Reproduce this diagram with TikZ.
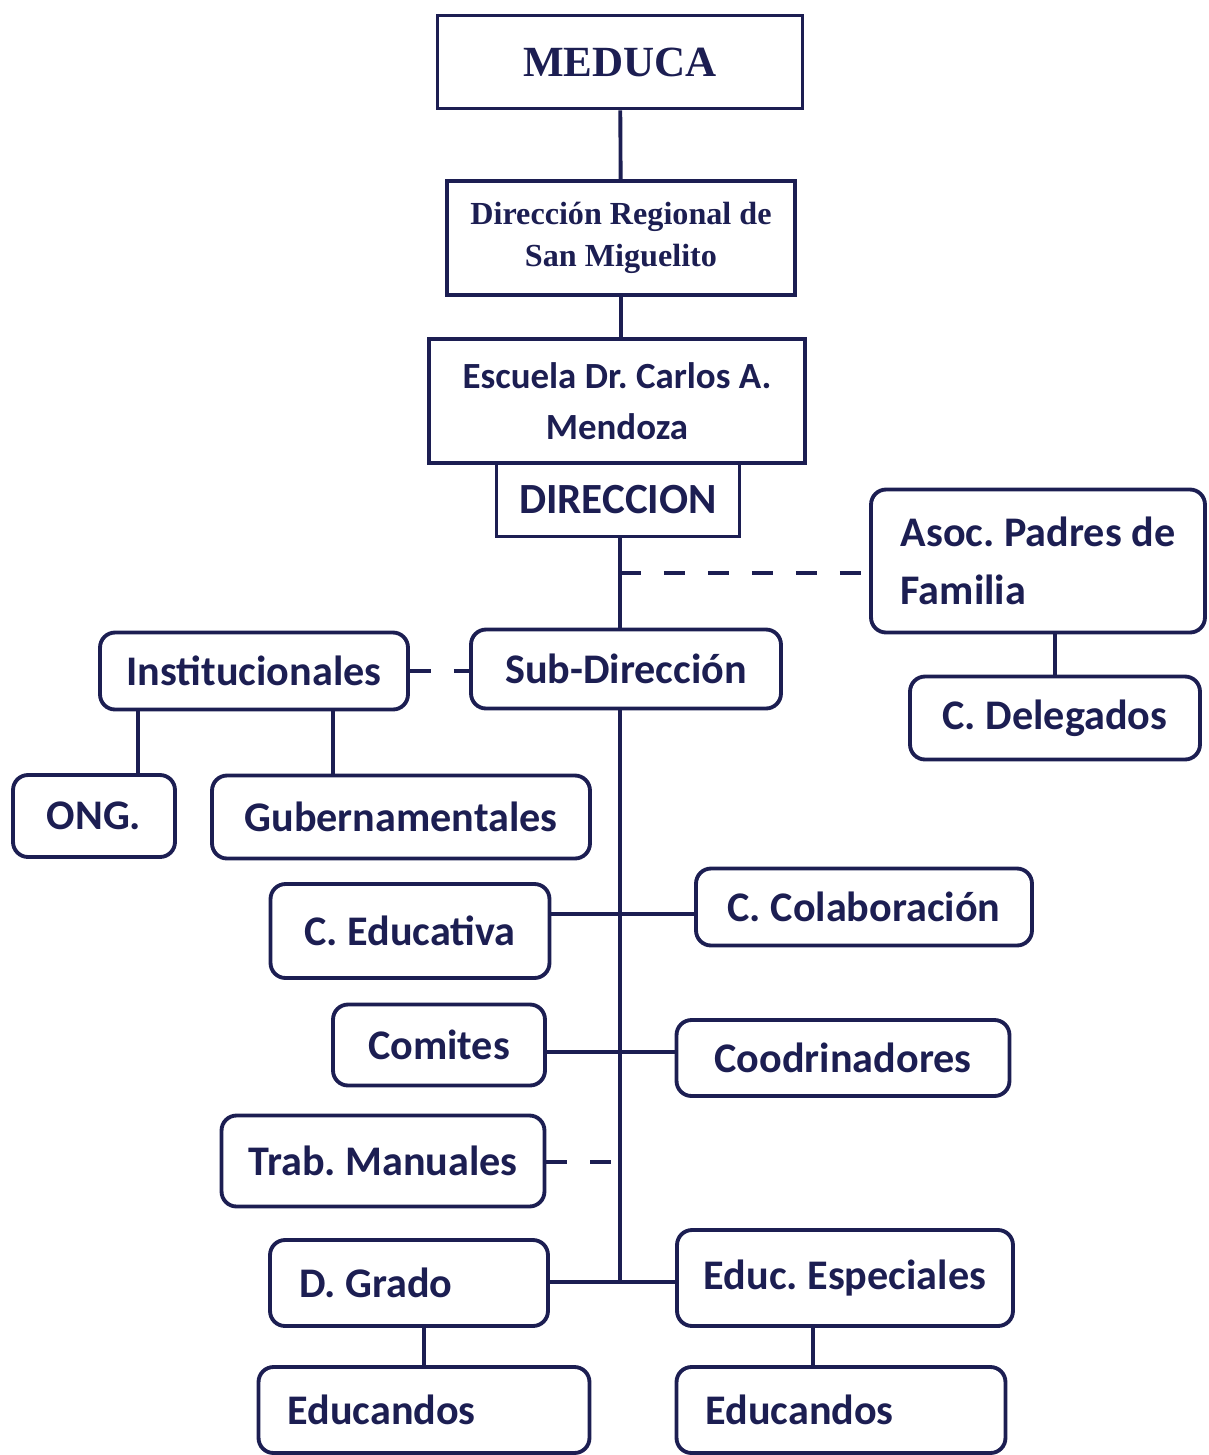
\documentclass[tikz,border=0pt]{standalone}
\usepackage{fontspec}
\setmainfont{Carlito}
\newfontfamily\serifbold{Liberation Serif}
\usepackage{tikz}
\usetikzlibrary{positioning}

\definecolor{navy}{RGB}{28,30,82}

\begin{document}
\frenchspacing
\begin{tikzpicture}[x=0.02cm,y=-0.02cm,
        topbox/.style={
            % The shape
            rectangle,
            % The border
            line width=2.2pt,
            draw = navy,
            % The color
            text = navy,
            % Font
            font = \serifbold\bfseries
        },
        sqbox/.style={
            % The shape
            rectangle,
            % The border
            line width=2.2pt,
            draw = navy,
            % The color
            text = navy,
            % Font
            font = \bfseries\fontsize{21}{29}\selectfont
        },
        box/.style={
            % The shape
            rectangle,
            rounded corners=0.3cm,
            % The border
            line width=2.2pt,
            draw = navy,
            % The color
            text = navy,
            % Font
            font = \bfseries\fontsize{24}{33}\selectfont
        },
        leftbox/.style={
            box,
            align=flush left,
            inner xsep=0.58cm
        },
        link/.style={line width=2.2pt, draw=navy},
        dashlink/.style={link, dash pattern=on 0.42cm off 0.46cm}
    ]
        \useasboundingbox (0,0) rectangle (1208,1455);

        % upper chain
        \node (meduca) [topbox,minimum width=7.3cm,minimum height=1.86cm,font=\serifbold\bfseries\fontsize{24.5}{28}\selectfont] at (620,62) {MEDUCA};
        \node (regional) [topbox,align=center,minimum width=6.96cm,minimum height=2.28cm,font=\serifbold\bfseries\fontsize{18.3}{24}\selectfont] at (621,238) {Dirección Regional de \\ San Miguelito};
        \node (escuela) [sqbox,align=center,minimum width=7.52cm,minimum height=2.48cm] at (617,401) {Escuela Dr. Carlos A. \\ Mendoza};
        \node (direccion) [sqbox,minimum width=4.86cm,minimum height=1.46cm,font=\bfseries\fontsize{24.5}{28}\selectfont] at (618,500) {DIRECCION};

        % spine points
        \coordinate (jPadres) at (620,573);
        \coordinate (jEdu) at (620,914);
        \coordinate (jCom) at (620,1052);
        \coordinate (jTrab) at (620,1162);
        \coordinate (jGrado) at (620,1282);
        \coordinate (xOng) at (138,0);
        \coordinate (xGub) at (333,0);
        \coordinate (xEsp) at (813,0);

        \path (meduca) edge[link] (regional);
        \path (regional.south) edge[link] (regional.south |- escuela.north);

        % right side
        \node (padres) [box,align=flush left,minimum width=6.68cm,minimum height=2.86cm] at (1038,561) {Asoc. Padres de \\ Familia};
        \node (delegados) [box,minimum width=5.8cm,minimum height=1.66cm] at (1055,718) {C. Delegados};
        \path (delegados.north |- padres.south) edge[link] (delegados.north);

        % sub-direccion
        \node (subdir) [box,minimum width=6.2cm,minimum height=1.58cm] at (626,669) {Sub-Dirección};
        \path (direccion.south -| jPadres) edge[link] (subdir.north -| jPadres);
        \path (jPadres) edge[dashlink] (padres.west |- jPadres);
        \path (subdir.south -| jGrado) edge[link] (jGrado);

        % left side
        \node (instit) [box,minimum width=6.16cm,minimum height=1.54cm] at (254,671) {Institucionales};
        \node (ong) [box,minimum width=3.24cm,minimum height=1.64cm] at (94,816) {ONG.};
        \node (gubern) [box,minimum width=7.56cm,minimum height=1.66cm] at (401,817) {Gubernamentales};
        \path (instit.east) edge[dashlink] (instit.east -| subdir.west);
        \path (instit.south -| xOng) edge[link] (ong.north -| xOng);
        \path (instit.south -| xGub) edge[link] (gubern.north -| xGub);

        % branches of the spine
        \node (educativa) [box,minimum width=5.58cm,minimum height=1.88cm] at (410,931) {C. Educativa};
        \node (colabora) [box,minimum width=6.72cm,minimum height=1.54cm] at (864,907) {C. Colaboración};
        \path (educativa.east |- jEdu) edge[link] (colabora.west |- jEdu);

        \node (comites) [box,minimum width=4.24cm,minimum height=1.62cm] at (439,1045) {Comites};
        \node (coordin) [box,minimum width=6.66cm,minimum height=1.52cm] at (843,1058) {Coodrinadores};
        \path (comites.east |- jCom) edge[link] (coordin.west |- jCom);

        \node (manuales) [box,minimum width=6.46cm,minimum height=1.82cm] at (383,1161) {Trab. Manuales};
        \path (manuales.east |- jTrab) edge[dashlink] (jTrab);

        \node (grado) [leftbox,text width=4.4cm,minimum height=1.72cm] at (409,1283) {D. Grado};
        \node (especial) [box,minimum width=6.72cm,minimum height=1.92cm] at (845,1278) {Educ. Especiales};
        \path (grado.east |- jGrado) edge[link] (especial.west |- jGrado);

        % bottom row
        \node (educandosA) [leftbox,text width=5.46cm,minimum height=1.72cm] at (424,1410) {Educandos};
        \node (educandosB) [leftbox,text width=5.42cm,minimum height=1.72cm] at (841,1410) {Educandos};
        \path (grado.south -| educandosA.north) edge[link] (educandosA.north);
        \path (especial.south -| xEsp) edge[link] (educandosB.north -| xEsp);

    \end{tikzpicture}
\end{document}
